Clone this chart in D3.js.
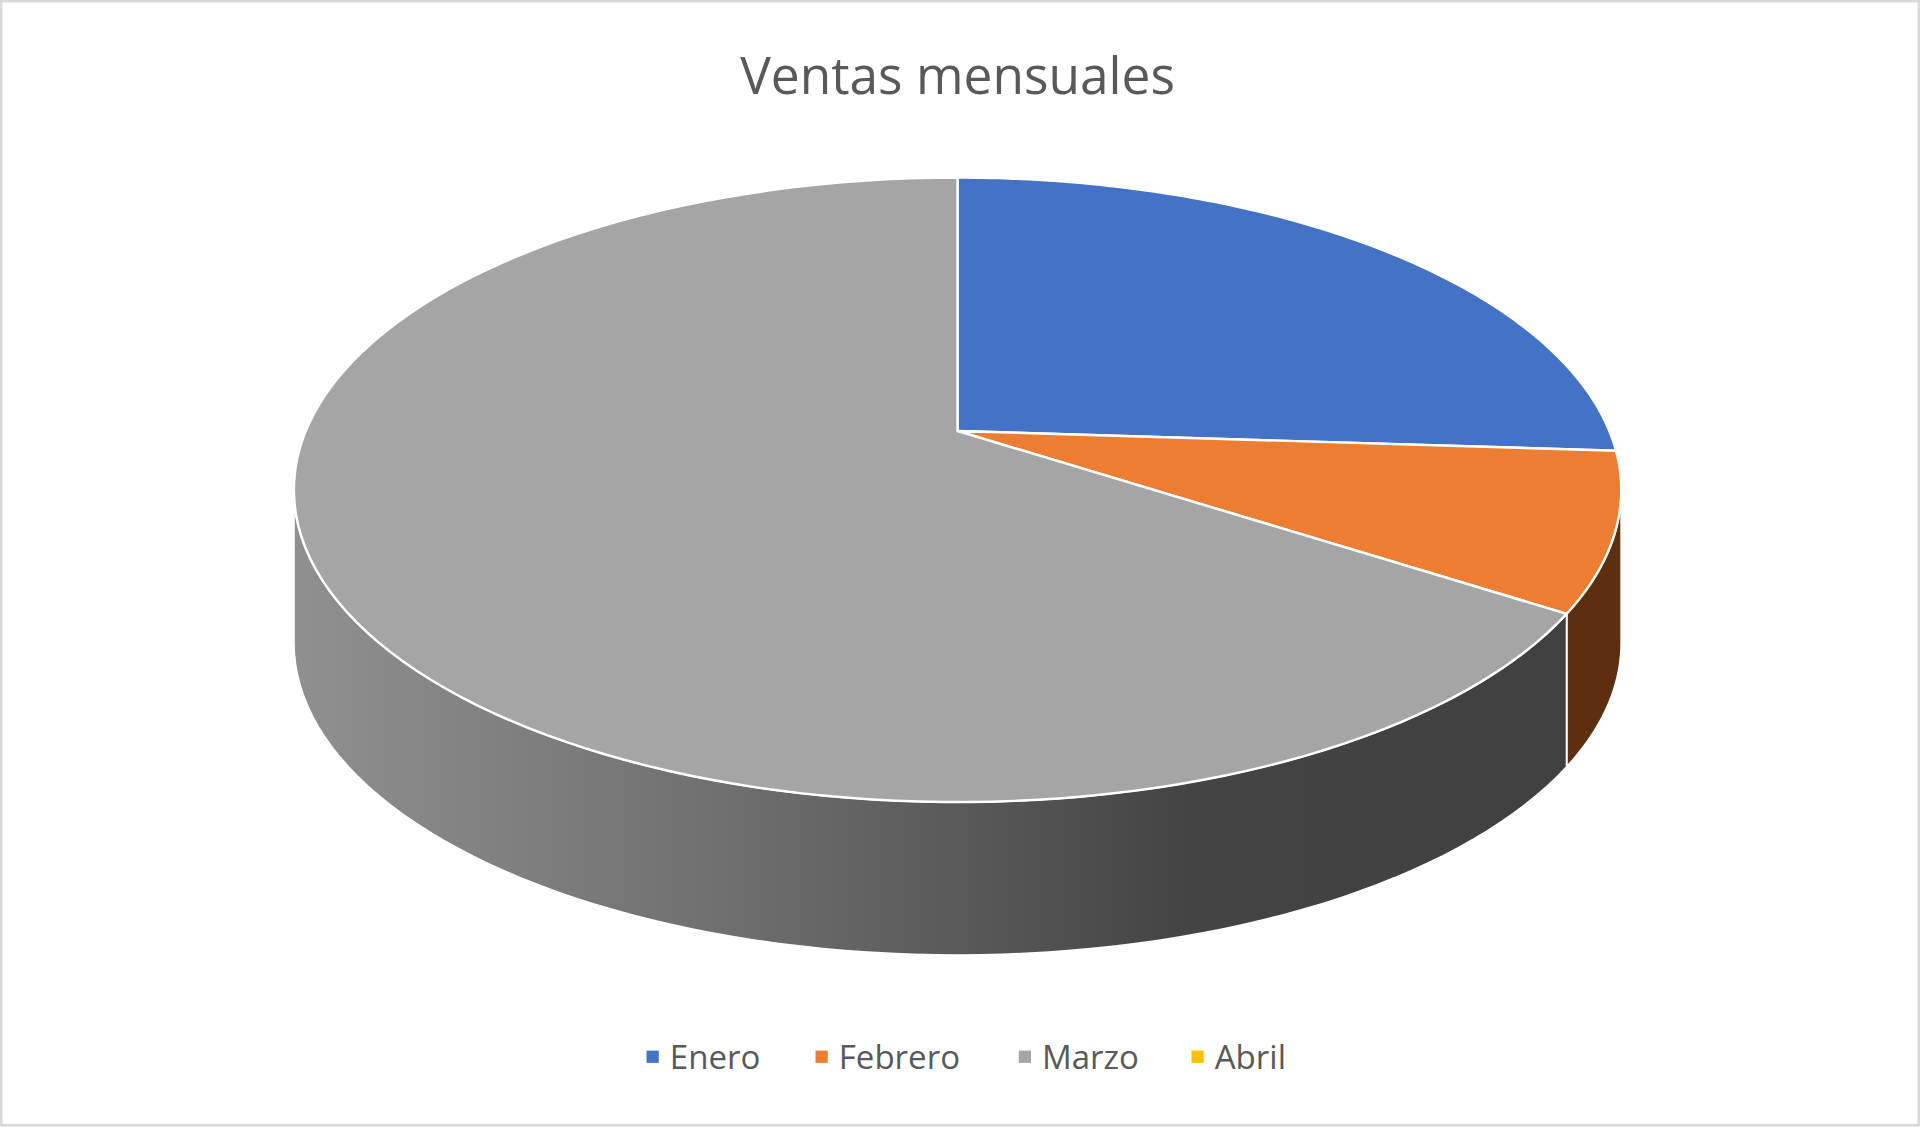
<!DOCTYPE html>
<html><head><meta charset="utf-8">
<script src="https://cdn.jsdelivr.net/npm/d3@7"></script>
<style>body{margin:0;background:#fff}</style></head>
<body><svg id="c" width="1920" height="1129" viewBox="0 0 1568 922"></svg>
<script>
const categories = ["Enero","Febrero","Marzo","Abril"];
const values = [2300, 850, 6850, 0];
const colors = ["#4472C4","#ED7D31","#A5A5A5","#FFC000"];
const sideColors = ["#2A4A80","#5E2F0E","url(#sideGrad)","#8A6800"];
const title = "Ventas mensuales";

const svg = d3.select("#c");
svg.append("rect").attr("x",1).attr("y",1).attr("width",1566).attr("height",918)
  .attr("fill","#fff").attr("stroke","#d9d9d9").attr("stroke-width",2);
const defs = svg.append("defs");
const g = defs.append("linearGradient").attr("id","sideGrad").attr("x1","0").attr("x2","1").attr("y1","0").attr("y2","0");
g.append("stop").attr("offset","0").attr("stop-color","#909090");
g.append("stop").attr("offset","0.35").attr("stop-color","#6e6e6e");
g.append("stop").attr("offset","0.7").attr("stop-color","#444");
g.append("stop").attr("offset","1").attr("stop-color","#404040");

svg.append("text").attr("x",782).attr("y",77).attr("text-anchor","middle")
  .attr("font-family","Open Sans, Noto Sans, sans-serif").attr("font-size",42).attr("fill","#595959").text(title);

const cx=782, cy=400, rx=542, ry=255, depth=125, vx=782, vy=352;
const pt=(a,dy=0)=>[cx+rx*Math.sin(a), cy-ry*Math.cos(a)+dy];
const arcs = d3.pie().sort(null).value(d=>d)(values);

// sides
arcs.forEach((d,i)=>{
  const a0=Math.max(d.startAngle,Math.PI/2), a1=Math.min(d.endAngle,3*Math.PI/2);
  if(a1<=a0) return;
  const n=80, top=d3.range(n+1).map(k=>pt(a0+(a1-a0)*k/n));
  const bot=top.map(p=>[p[0],p[1]+depth]).reverse();
  svg.append("path").attr("d",d3.line()(top.concat(bot))+"Z")
    .attr("fill",sideColors[i]).attr("stroke","#fff").attr("stroke-width",1.5);
});
// top faces
arcs.forEach((d,i)=>{
  if(d.endAngle-d.startAngle<=0) return;
  const n=120, pts=d3.range(n+1).map(k=>pt(d.startAngle+(d.endAngle-d.startAngle)*k/n));
  svg.append("path").attr("d",d3.line()([[vx,vy]].concat(pts))+"Z")
    .attr("fill",colors[i]).attr("stroke","#fff").attr("stroke-width",2).attr("stroke-linejoin","round");
});

// legend
const lx=[528,666,832,973];
categories.forEach((c,i)=>{
  svg.append("rect").attr("x",lx[i]).attr("y",858).attr("width",10).attr("height",10).attr("fill",colors[i]);
  svg.append("text").attr("x",lx[i]+19).attr("y",873).attr("font-family","Open Sans, Noto Sans, sans-serif")
    .attr("font-size",27).attr("fill","#595959").text(c);
});
</script></body></html>
